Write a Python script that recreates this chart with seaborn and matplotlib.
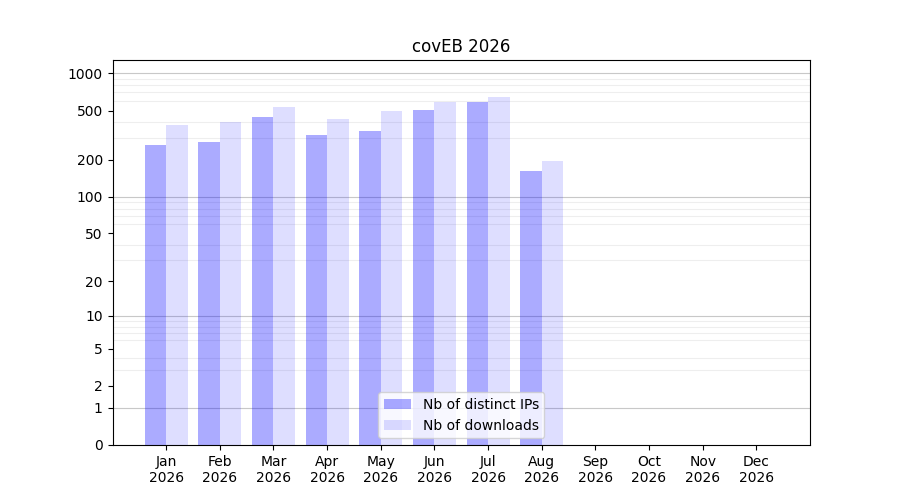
import numpy as np
import pandas as pd
import matplotlib
matplotlib.use('Agg')
import matplotlib.pyplot as plt
import seaborn as sns
from matplotlib.ticker import FixedLocator

# données
months = ['Jan', 'Feb', 'Mar', 'Apr', 'May', 'Jun', 'Jul', 'Aug', 'Sep', 'Oct', 'Nov', 'Dec']
year = '2026'
distinct_ips = [262, 277, 441, 315, 340, 503, 583, 161]
downloads = [380, 402, 531, 425, 493, 583, 640, 194]
series_names = ['Nb of distinct IPs', 'Nb of downloads']

n = len(distinct_ips)
df = pd.DataFrame({
    'month': months[:n] * 2,
    'value': distinct_ips + downloads,
    'series': [series_names[0]] * n + [series_names[1]] * n,
})

sns.set_style('white')
plt.rcParams['font.family'] = ['DejaVu Sans']
plt.rcParams['text.color'] = 'black'
plt.rcParams['xtick.color'] = 'black'
plt.rcParams['ytick.color'] = 'black'
plt.rcParams['axes.labelcolor'] = 'black'

f, ax = plt.subplots(figsize=(9, 5), dpi=100)
sns.barplot(data=df, x='month', y='value', hue='series', order=months,
            hue_order=series_names, palette=['blue', 'blue'], width=0.8,
            saturation=1, legend=False, ax=ax)

# transparence différente pour chaque série
for cont, a in zip(ax.containers, [0.33, 0.13]):
    for p in cont:
        p.set_alpha(a)
        p.set_edgecolor('none')

# échelle log(x+1)
ax.set_yscale('function', functions=(lambda v: np.log10(np.maximum(v, 0) + 1),
                                     lambda v: 10 ** v - 1))
ax.set_ylim(0, 2 * max(max(distinct_ips), max(downloads)))
ax.set_xlim(-1, 12)

yticks = [0, 1, 2, 5, 10, 20, 50, 100, 200, 500, 1000]
ax.yaxis.set_major_locator(FixedLocator(yticks))
ax.set_yticklabels([str(t) for t in yticks])
minor = [m * 10 ** k for k in range(4) for m in range(1, 10)]
ax.yaxis.set_minor_locator(FixedLocator(minor))
ax.tick_params(axis='y', which='minor', length=0)
ax.grid(False)
ax.yaxis.grid(True, which='minor', color='#eeeeee', linewidth=0.8)
for k in range(4):
    ax.axhline(10 ** k, color='#c8c8c8', linewidth=0.8, zorder=0.5)

ax.set_xticks(range(len(months)))
ax.set_xticklabels([m + '\n' + year for m in months])
ax.tick_params(axis='both', which='major', length=3.5, width=0.8, color='black',
               labelcolor='black', labelsize=10, bottom=True, left=True)
ax.set_xlabel('')
ax.set_ylabel('')
for s in ax.spines.values():
    s.set_color('black')
    s.set_linewidth(0.8)

ax.set_title('covEB 2026', fontsize=12, color='black')
leg = ax.legend(handles=list(ax.containers), labels=series_names,
                loc='lower center', fontsize=10)
for t in leg.get_texts():
    t.set_color('black')

plt.subplots_adjust(left=0.125, right=0.9, top=0.88, bottom=0.11)
plt.savefig('out.png', dpi=100)
